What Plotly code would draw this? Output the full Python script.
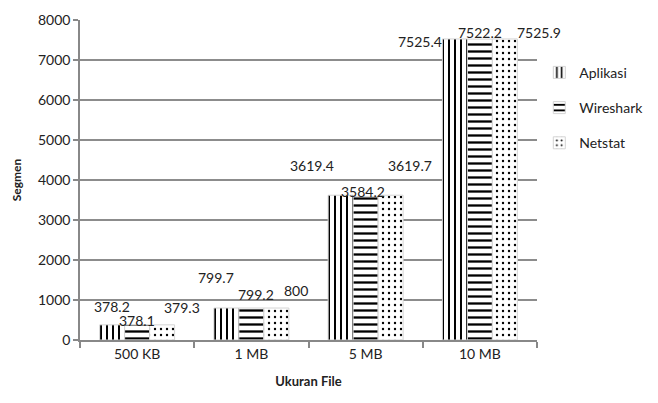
import plotly.graph_objects as go

categories = ["500 KB", "1 MB", "5 MB", "10 MB"]
aplikasi = [378.2, 799.7, 3619.4, 7525.4]
wireshark = [378.1, 799.2, 3584.2, 7522.2]
netstat = [379.3, 800, 3619.7, 7525.9]
series_names = ["Aplikasi", "Wireshark", "Netstat"]
y_ticks = [0, 1000, 2000, 3000, 4000, 5000, 6000, 7000, 8000]

series = [aplikasi, wireshark, netstat]
shapes = ["|", "-", "."]
sizes = [6, 7, 6]
solid = [0.33, 0.33, 0.12]
bar_off = [-25, 0, 25]
# label nudges (px) per series per category: (dx, dy)
nudges = [
    [(0, 18), (-10, 31), (-29, 30), (-35, -3)],
    [(0, 4), (5, 14), (-3, 5), (0, 7)],
    [(20, 17), (20, 18), (19, 30), (34, 6)],
]

FONT = "Lato, Carlito, Liberation Sans, sans-serif"
fig = go.Figure()
for i, (name, vals) in enumerate(zip(series_names, series)):
    fig.add_trace(go.Bar(
        x=categories, y=vals, name=name, legendgroup=name,
        marker=dict(color="white",
                    line=dict(color="#d4d4d4", width=1),
                    pattern=dict(shape=shapes[i], fgcolor="black", bgcolor="white",
                                 size=sizes[i], solidity=solid[i], fillmode="replace")),
    ))

annotations = []
for i, vals in enumerate(series):
    for j, v in enumerate(vals):
        dx, dy = nudges[i][j]
        annotations.append(dict(
            x=categories[j], y=v, xref="x", yref="y", text=f"{v:g}",
            showarrow=False, xanchor="center", yanchor="middle",
            xshift=bar_off[i] + dx, yshift=dy,
            font=dict(family=FONT, size=14, color="#222"),
        ))

fig.update_layout(
    width=658, height=403,
    margin=dict(l=80, r=121, t=20, b=63, autoexpand=False),
    paper_bgcolor="white", plot_bgcolor="white",
    barmode="group", bargap=0.344, bargroupgap=0,
    font=dict(family=FONT, size=14, color="#222"),
    showlegend=True,
    legend=dict(x=1.005, y=0.885, xanchor="left", yanchor="top",
                font=dict(family=FONT, size=14, color="#222"),
                tracegroupgap=14, traceorder="grouped",
                itemwidth=30, bgcolor="rgba(0,0,0,0)"),
    annotations=annotations,
)
fig.update_xaxes(
    automargin=False,
    range=[-0.5, len(categories) - 0.5],
    showline=True, linecolor="#888", linewidth=1.5,
    ticks="outside", tickson="boundaries", ticklen=6, tickcolor="#888", tickwidth=1.5,
    title=dict(text="<b>Ukuran File</b>", font=dict(family=FONT, size=13, color="#222"), standoff=16),
    tickfont=dict(family=FONT, size=14, color="#222"),
)
fig.update_yaxes(
    automargin=False,
    range=[0, 8000], tickvals=y_ticks,
    showgrid=True, gridcolor="#8c8c8c", gridwidth=1.5,
    showline=True, linecolor="#888", linewidth=1.5,
    ticks="outside", ticklen=5, tickcolor="#888", tickwidth=1.5,
    zeroline=False,
    title=dict(text="<b>Segmen</b>", font=dict(family=FONT, size=12, color="#222"), standoff=14),
    tickfont=dict(family=FONT, size=14, color="#222"),
)

fig.write_html("out.html", config={"displayModeBar": False},
               post_script="document.body.style.margin='0';document.body.style.overflow='hidden';")
